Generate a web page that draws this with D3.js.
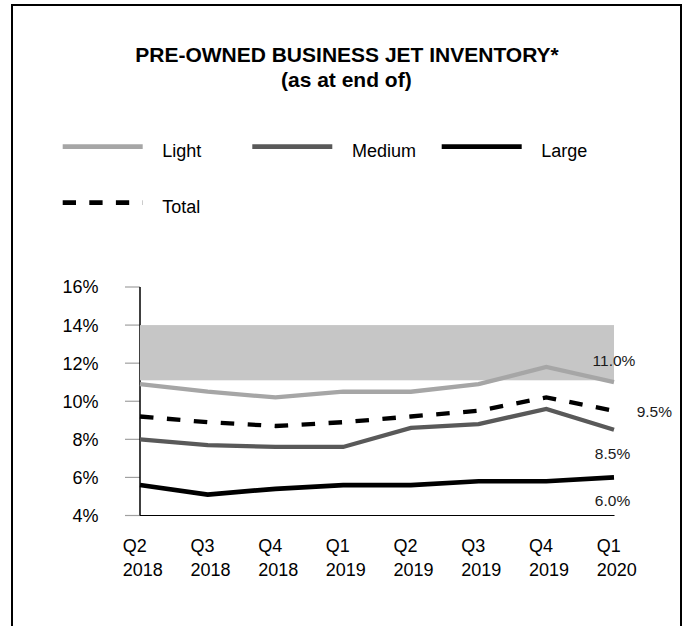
<!DOCTYPE html>
<html>
<head>
<meta charset="utf-8">
<script src="https://cdn.jsdelivr.net/npm/d3@7"></script>
<style>
  html, body { margin: 0; padding: 0; background: #fff; }
  svg { display: block; }
  text { font-family: "Liberation Sans", Arial, sans-serif; fill: #000; }
</style>
</head>
<body>
<svg id="chart" width="686" height="626"></svg>
<script>
// Quarter-end categories (two-line labels)
const quarters = ["Q2", "Q3", "Q4", "Q1", "Q2", "Q3", "Q4", "Q1"];
const years = ["2018", "2018", "2018", "2019", "2019", "2019", "2019", "2020"];

// Inventory as % of fleet, per segment
const light  = [10.9, 10.5, 10.2, 10.5, 10.5, 10.9, 11.8, 11.0];
const medium = [8.0, 7.7, 7.6, 7.6, 8.6, 8.8, 9.6, 8.5];
const large  = [5.6, 5.1, 5.4, 5.6, 5.6, 5.8, 5.8, 6.0];
const total  = [9.2, 8.9, 8.7, 8.9, 9.2, 9.5, 10.2, 9.5];

// Shaded reference range
const bandLow = 11.1;
const bandHigh = 14;

// Y axis ticks
const yTicks = [4, 6, 8, 10, 12, 14, 16];

const svg = d3.select("#chart");

// Outer frame
svg.append("rect")
  .attr("x", 12).attr("y", 5)
  .attr("width", 669).attr("height", 700)
  .attr("fill", "none").attr("stroke", "#000").attr("stroke-width", 2);

// Title
svg.append("text")
  .attr("x", 347).attr("y", 62.3)
  .attr("text-anchor", "middle")
  .style("font-size", "21px").style("font-weight", "bold")
  .text("PRE-OWNED BUSINESS JET INVENTORY*");
svg.append("text")
  .attr("x", 346.3).attr("y", 87.3)
  .attr("text-anchor", "middle")
  .style("font-size", "21px").style("font-weight", "bold")
  .text("(as at end of)");

// Series styling
const series = [
  { name: "Light",  values: light,  color: "#a6a6a6", dash: null },
  { name: "Medium", values: medium, color: "#595959", dash: null },
  { name: "Large",  values: large,  color: "#000000", dash: null },
  { name: "Total",  values: total,  color: "#000000", dash: "13.5,13.5" }
];

// Legend
const legendPos = [
  { x: 62.7, y: 146.7 }, { x: 252.3, y: 146.7 }, { x: 441.7, y: 146.7 },
  { x: 62.7, y: 202.7 }
];
series.forEach((s, i) => {
  const p = legendPos[i];
  svg.append("line")
    .attr("x1", p.x).attr("x2", p.x + 80)
    .attr("y1", p.y).attr("y2", p.y)
    .attr("stroke", s.color).attr("stroke-width", 4.7)
    .attr("stroke-dasharray", s.dash ? "13.3,13.3" : null);
  svg.append("text")
    .attr("x", p.x + 99.6).attr("y", p.y + 10)
    .style("font-size", "18px")
    .text(s.name);
});

// Scales
const x = d3.scalePoint().domain(d3.range(quarters.length)).range([140, 614]);
const y = d3.scaleLinear().domain([4, 16]).range([515.5, 287]);

// Y axis: grey ticks, labels on the left
const yAxis = svg.append("g");
yAxis.selectAll("line.tick").data(yTicks).join("line")
  .attr("class", "tick")
  .attr("x1", 125).attr("x2", 140)
  .attr("y1", d => y(d)).attr("y2", d => y(d))
  .attr("stroke", "#a0a0a0").attr("stroke-width", 1.2);
yAxis.selectAll("text").data(yTicks).join("text")
  .attr("x", 98.5).attr("y", d => y(d))
  .attr("dy", "0.36em")
  .attr("text-anchor", "end")
  .style("font-size", "18px")
  .text(d => d + "%");
yAxis.append("line")
  .attr("x1", 140).attr("x2", 140)
  .attr("y1", y(16)).attr("y2", y(4))
  .attr("stroke", "#000").attr("stroke-width", 1.5);

// Shaded range
svg.append("rect")
  .attr("x", x(0)).attr("y", y(bandHigh))
  .attr("width", x(quarters.length - 1) - x(0))
  .attr("height", y(bandLow) - y(bandHigh))
  .attr("fill", "#c6c6c6");

// X axis baseline
svg.append("line")
  .attr("x1", x(0)).attr("x2", x(quarters.length - 1) + 0.5)
  .attr("y1", y(4)).attr("y2", y(4))
  .attr("stroke", "#000").attr("stroke-width", 1.2);

// X labels (two lines, left-aligned block centred on each point)
const xl = svg.append("g");
quarters.forEach((q, i) => {
  const t = xl.append("text")
    .attr("x", x(i) - 17.3)
    .style("font-size", "18px");
  t.append("tspan").attr("x", x(i) - 17.3).attr("y", 551.7).text(q);
  t.append("tspan").attr("x", x(i) - 17.3).attr("y", 576).text(years[i]);
});

// Lines
const line = d3.line().x((d, i) => x(i)).y(d => y(d));
series.forEach(s => {
  svg.append("path")
    .datum(s.values)
    .attr("d", line)
    .attr("fill", "none")
    .attr("stroke", s.color)
    .attr("stroke-width", s.name === "Large" ? 4.7 : 4.3)
    .attr("stroke-linejoin", "miter")
    .attr("stroke-dasharray", s.dash);
});

// End-of-series value labels
const last = quarters.length - 1;
const fmt = d => d.toFixed(1) + "%";
const endLabels = [
  { v: light[last],  dx: 0,    dy: -16.6, anchor: "middle" },
  { v: total[last],  dx: 22.7, dy: 6,     anchor: "start" },
  { v: medium[last], dx: -1.5, dy: 28.7,  anchor: "middle" },
  { v: large[last],  dx: -1.5, dy: 28.3,  anchor: "middle" }
];
endLabels.forEach(l => {
  svg.append("text")
    .attr("x", x(last) + l.dx)
    .attr("y", y(l.v) + l.dy)
    .attr("text-anchor", l.anchor)
    .style("font-size", "15.5px")
    .style("fill", "#1a1a1a")
    .text(fmt(l.v));
});
</script>
</body>
</html>
